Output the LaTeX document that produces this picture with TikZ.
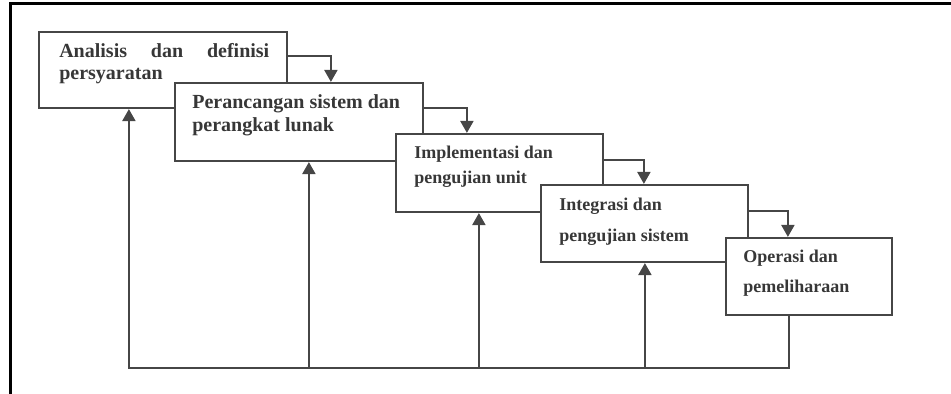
\documentclass[tikz,border=0pt]{standalone}
\usepackage{fontspec}
\setmainfont{Liberation Serif}
\usetikzlibrary{positioning, arrows.meta, calc}
\definecolor{garis}{RGB}{70,70,70}
\definecolor{teks}{RGB}{55,55,55}

\begin{document}
\begin{tikzpicture}[
    x=0.5pt, y=-0.5pt,
    box/.style={
        draw=garis, fill=white, line width=1.1pt,
        inner sep=0pt
    },
    txt/.style={
        font=\bfseries\fontsize{10}{12}\selectfont,
        text=teks, inner sep=0pt, align=left
    },
    txtkecil/.style={txt, font=\bfseries\fontsize{9}{12}\selectfont},
    arr/.style={-{Triangle[width=6.5pt, length=6pt]}, draw=garis, line width=1.1pt},
]
\useasboundingbox (0,0) rectangle (951,394);

% Frame (top and left edge only)
\draw[line width=1.5pt] (10,394) |- (951,4);

% Waterfall boxes, each one drawn over the previous
\node[box, minimum width=124pt, minimum height=38pt] (analisis) at (163,70) {};
\node[txt, below right=6.2pt and 10.5pt of analisis.north west] (analisis-t)
    {\makebox[105pt][s]{Analisis dan definisi}\\[-1pt]persyaratan};

\node[box, minimum width=124pt, minimum height=39pt] (perancangan) at (299,122) {};
\node[txt, below right=6.2pt and 9pt of perancangan.north west] (perancangan-t)
    {Perancangan sistem dan\\[-0.5pt]perangkat lunak};

\node[box, minimum width=103.5pt, minimum height=39pt] (implementasi) at (499.5,173) {};
\node[txtkecil, below right=6.6pt and 9.5pt of implementasi.north west] (implementasi-t)
    {Implementasi dan\\[0.5pt]pengujian unit};

\node[box, minimum width=103.5pt, minimum height=38.5pt] (integrasi) at (644.5,223.5) {};
\node[txtkecil, below right=6.8pt and 9.5pt of integrasi.north west] (integrasi-t)
    {Integrasi dan\\[3.5pt]pengujian sistem};

\node[box, minimum width=83pt, minimum height=38.5pt] (operasi) at (809,276.5) {};
\node[txtkecil, below right=6.6pt and 9pt of operasi.north west] (operasi-t)
    {Operasi dan\\[3pt]pemeliharaan};

% Forward flow (right side of a box, down into the next one)
\draw[arr] ($(analisis.north east)+(0,25)$) -| ($(perancangan.north west)+(157,0)$);
\draw[arr] ($(perancangan.north east)+(0,26)$) -| ($(implementasi.north west)+(72,0)$);
\draw[arr] ($(implementasi.north east)+(0,27)$) -| ($(integrasi.north west)+(104,0)$);
\draw[arr] ($(integrasi.north east)+(0,27)$) -| ($(operasi.north west)+(63,0)$);

% Feedback line along the bottom
\coordinate (dasar) at ($(operasi.south west)+(64,52)$);
\draw[arr] ($(operasi.south west)+(64,0)$) -- (dasar) -| ($(analisis.south west)+(91,0)$);

\coordinate (balik2) at ($(perancangan.south west)+(135,0)$);
\coordinate (balik3) at ($(implementasi.south west)+(84,0)$);
\coordinate (balik4) at ($(integrasi.south west)+(105,0)$);
\draw[arr] (dasar -| balik2) -- (balik2);
\draw[arr] (dasar -| balik3) -- (balik3);
\draw[arr] (dasar -| balik4) -- (balik4);

\end{tikzpicture}
\end{document}
